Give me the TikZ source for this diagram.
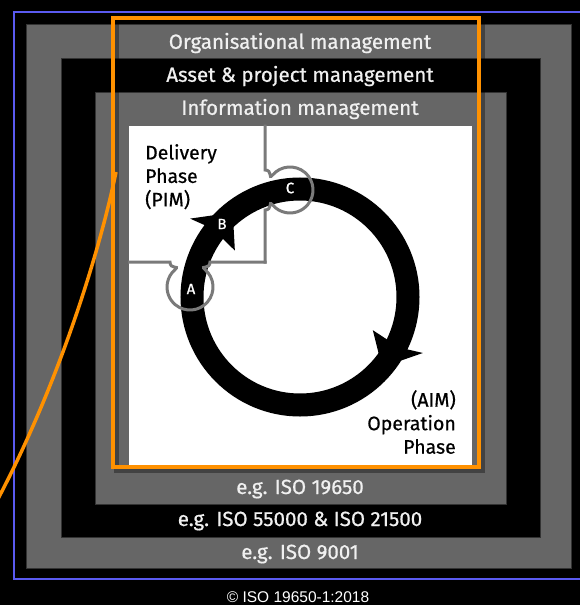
\documentclass[tikz,border=0pt]{standalone}
\usepackage{fontspec}
\setmainfont{Fira Sans}[UprightFeatures={FakeBold=0.7}]
\newfontfamily\arialfont{Liberation Sans}
\usetikzlibrary{calc}
\definecolor{bandgrey}{HTML}{666666}
\definecolor{isoorange}{HTML}{FF9100}
\definecolor{isoblue}{HTML}{5A5AF0}
\definecolor{tabgrey}{HTML}{7A7A7A}
\tikzset{
  band/.style={text=white!94!black, font=\fontsize{20.5}{21}\selectfont, inner sep=0},
  phase/.style={text=black, font=\fontsize{19.5}{23.5}\selectfont, inner sep=0},
  ringlbl/.style={text=white, font=\fontsize{15}{15}\selectfont, inner sep=0},
  tabline/.style={tabgrey, line width=3},
}
\begin{document}
\begin{tikzpicture}[x=1pt,y=-1pt]
\fill[black] (0,0) rectangle (580,605);
\useasboundingbox (0,0) rectangle (580,605);
\draw[isoblue, line width=2] (14,12) rectangle (592,579);
\filldraw[fill=bandgrey, draw=black!80] (26,24) rectangle (571,568);
\filldraw[fill=black, draw=black!80] (61,58) rectangle (540,537);
\filldraw[fill=bandgrey, draw=black!80] (95,92) rectangle (506,504);
\fill[white] (129,126) rectangle (472,465);

\node[band] (orgmgmt) at (300,43) {Organisational management};
\node[band] (assetmgmt) at (300,76) {Asset \& project management};
\node[band] (infomgmt) at (300,109) {Information management};
\node[band] (iso19650) at (300,489) {e.g. ISO 19650};
\node[band] (iso55000) at (300,521) {e.g. ISO 55000 \& ISO 21500};
\node[band] (iso9001) at (300,554) {e.g. ISO 9001};
\node[text=white, font=\arialfont\fontsize{15.5}{15.5}\selectfont, inner sep=0] (copyr) at (298,597) {© ISO 19650-1:2018};

\node[phase, anchor=north west, align=left] (delivery) at (145,144) {Delivery\\Phase\\(PIM)};
\node[phase, anchor=north east, align=right] (operation) at (456,390) {(AIM)\\Operation\\Phase};

\begin{scope}[shift={(300,297)}]
\draw[line width=23] (0,0) circle (108);
\foreach \a in {215.5,24.5}
  \fill (\a:80) -- (\a+16:108) -- (\a:135) -- (\a+1.5:119.5) -- (\a+1.5:96.5) -- cycle;
\end{scope}

\begin{scope}[shift={(265,190)}]
\draw[tabline] (0,-65.5) -- (0,-20) .. controls (8,-20) and (3,-10) .. (7.4,-14.8)
  arc[start angle=-140, end angle=140, radius=23] .. controls (3,10) and (8,20) .. (0,20) -- (0,73.5);
\end{scope}
\begin{scope}[shift={(190,262)}, rotate=-90]
\draw[tabline] (0,-76.5) -- (0,-20) .. controls (8,-20) and (3,-10) .. (7.4,-14.8)
  arc[start angle=-140, end angle=140, radius=23] .. controls (3,10) and (8,20) .. (0,20) -- (0,62);
\end{scope}

\node[ringlbl] (tabA) at (191,289) {A};
\node[ringlbl] (arrowB) at (222,224) {B};
\node[ringlbl] (tabC) at (290,188) {C};

\coordinate (curvefoot) at (-5,505);
\coordinate (curvetop) at (116,172);
\draw[black, opacity=.35, line width=5] (116,21) rectangle (482,470);
\draw[isoorange, line width=4] (113,18) rectangle (479,467);
\draw[isoorange, line width=3.5] (curvefoot) -- (0,495) .. controls (60,380) and (100,250) .. (curvetop);
\end{tikzpicture}
\end{document}
